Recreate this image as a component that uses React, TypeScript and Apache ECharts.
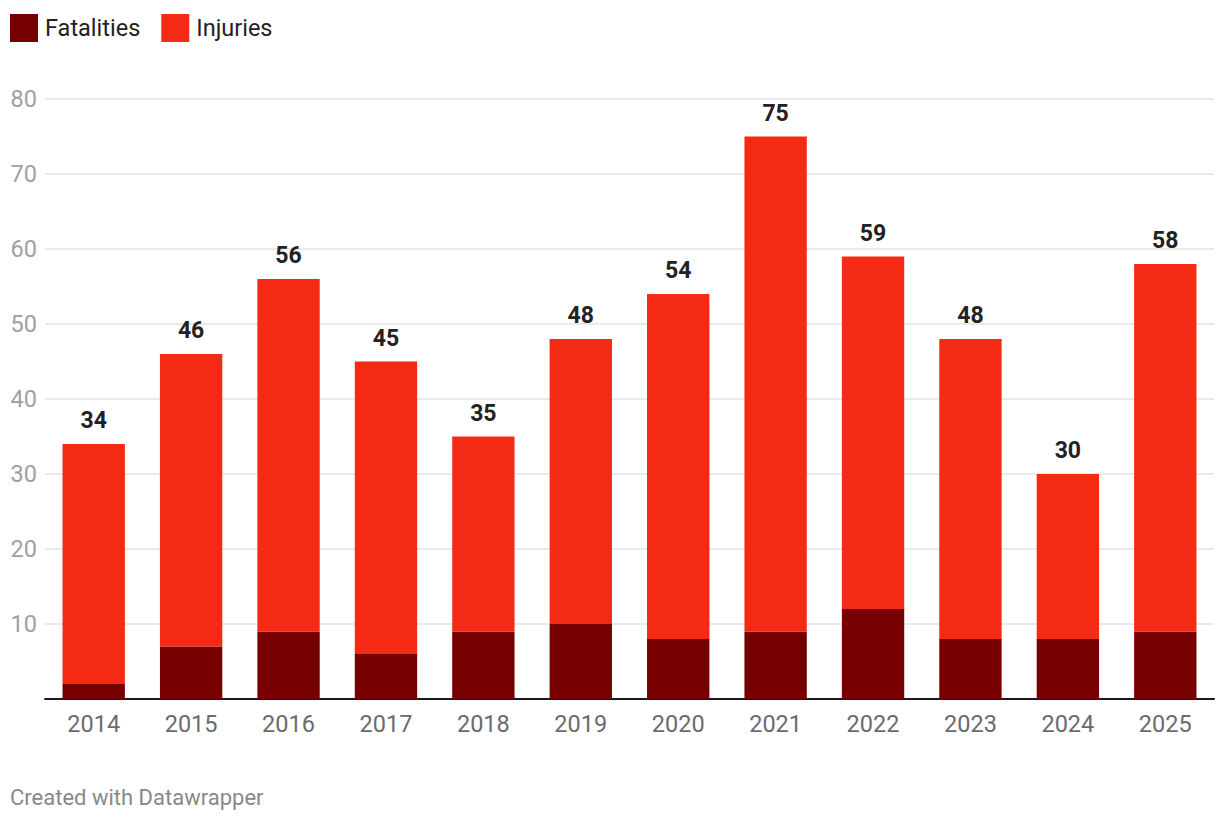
import React, { useEffect, useRef } from "react";
import * as echarts from "echarts";

const years = ["2014", "2015", "2016", "2017", "2018", "2019", "2020", "2021", "2022", "2023", "2024", "2025"];
const fatalities = [2, 7, 9, 6, 9, 10, 8, 9, 12, 8, 8, 9];
const totals = [34, 46, 56, 45, 35, 48, 54, 75, 59, 48, 30, 58];
const injuries = totals.map((t, i) => t - fatalities[i]);

const FONT = "Roboto, 'Noto Sans', sans-serif";

export default function App() {
  const ref = useRef<HTMLDivElement>(null);
  useEffect(() => {
    document.body.style.margin = "0";
    const chart = echarts.init(ref.current!, undefined, { renderer: "svg" });
    chart.setOption({
      animation: false,
      textStyle: { fontFamily: FONT },
      legend: {
        left: 10,
        top: 14,
        padding: 0,
        itemWidth: 28,
        itemHeight: 28,
        itemGap: 21,
        icon: "rect",
        textStyle: { fontSize: 23.5, color: "#222", fontFamily: FONT, padding: [0, 0, 0, 2] },
        data: ["Fatalities", "Injuries"],
      },
      grid: { left: 45, right: 6, top: 99, bottom: 123, containLabel: false },
      xAxis: {
        type: "category",
        data: years,
        axisTick: { show: false },
        axisLine: { lineStyle: { color: "#1a1a1a", width: 2 } },
        axisLabel: { fontSize: 23.5, color: "#6b6b6b", margin: 13, fontFamily: FONT },
      },
      yAxis: {
        type: "value",
        min: 0,
        max: 80,
        interval: 10,
        axisLine: { show: false },
        axisTick: { show: false },
        axisLabel: {
          fontSize: 23.5,
          color: "#a0a0a0",
          margin: 8,
          fontFamily: FONT,
          formatter: (v: number) => (v === 0 ? "" : String(v)),
        },
        splitLine: { lineStyle: { color: "#e3e3e3", width: 1.5 } },
      },
      series: [
        {
          name: "Fatalities",
          type: "bar",
          stack: "total",
          data: fatalities,
          barCategoryGap: "36%",
          itemStyle: { color: "#760000" },
        },
        {
          name: "Injuries",
          type: "bar",
          stack: "total",
          data: injuries,
          barCategoryGap: "36%",
          itemStyle: { color: "#f42a15" },
          label: {
            show: true,
            position: "top",
            distance: 12,
            fontSize: 23,
            fontWeight: "bold",
            color: "#222",
            fontFamily: FONT,
            formatter: (p: any) => String(totals[p.dataIndex]),
          },
        },
      ],
      graphic: [
        {
          type: "text",
          left: 10,
          top: 786,
          style: { text: "Created with Datawrapper", fontSize: 22, fill: "#888", fontFamily: FONT },
        },
      ],
    });
    return () => chart.dispose();
  }, []);
  return <div ref={ref} style={{ width: 1220, height: 822 }} />;
}
